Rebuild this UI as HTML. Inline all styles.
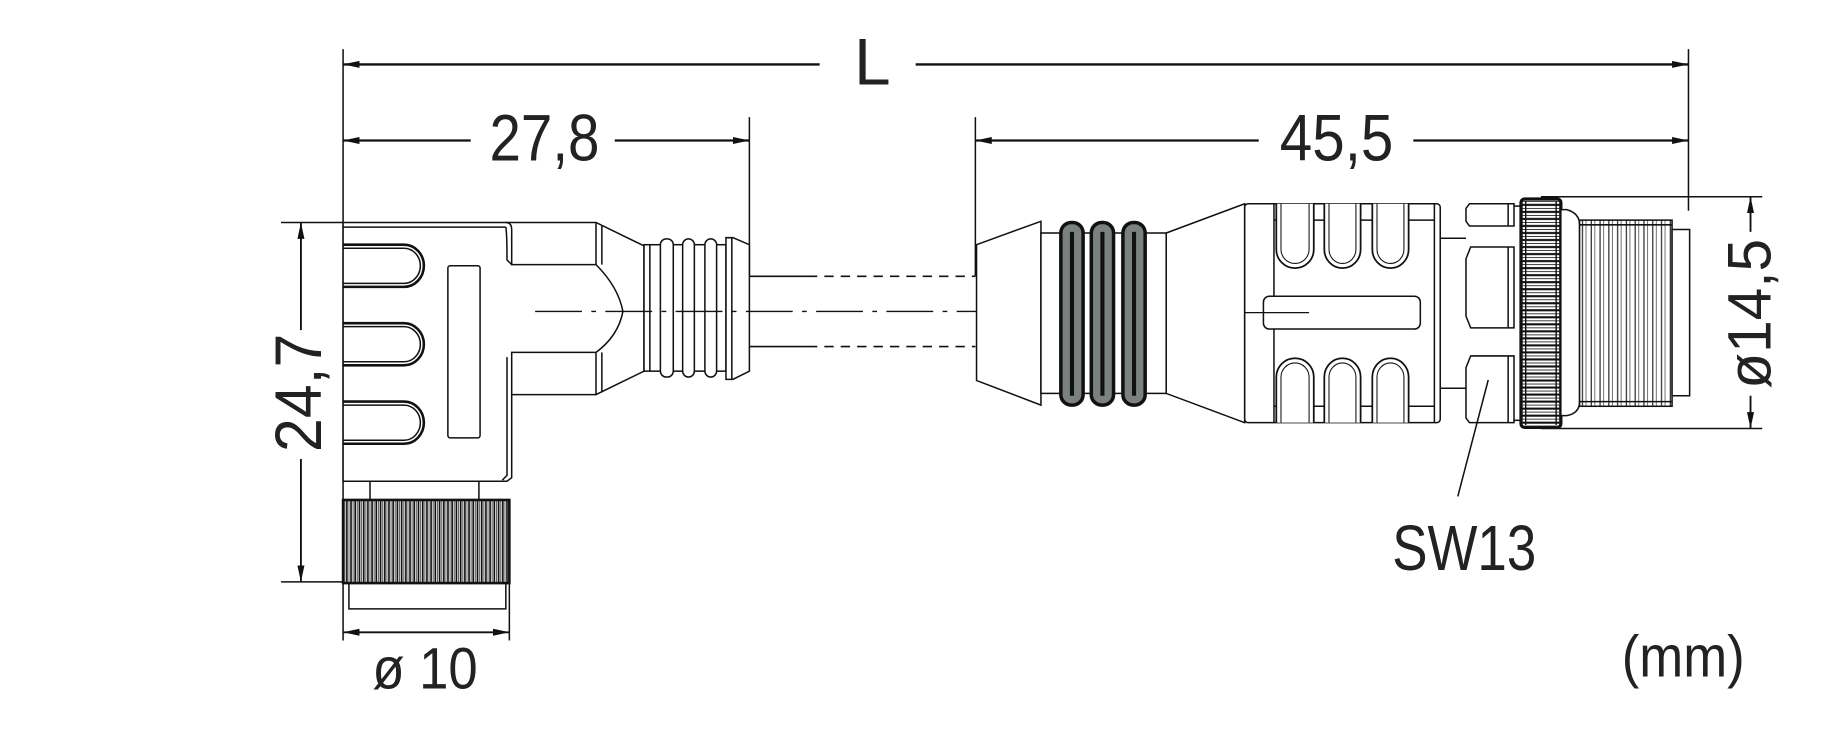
<!DOCTYPE html>
<html><head><meta charset="utf-8"><style>
html,body{margin:0;padding:0;background:#fff;}
svg{display:block;}
text{font-family:"Liberation Sans",sans-serif;fill:#222;}
</style></head><body>
<svg width="1836" height="747" viewBox="0 0 1568 638" preserveAspectRatio="none" xmlns="http://www.w3.org/2000/svg">
<defs>
<pattern id="knV" x="0" y="0" width="3.6" height="10" patternUnits="userSpaceOnUse">
<rect width="3.6" height="10" fill="#fff"/><line x1="1" y1="0" x2="1" y2="10" stroke="#111" stroke-width="1.5"/><line x1="2.8" y1="0" x2="2.8" y2="10" stroke="#444" stroke-width="0.7"/></pattern>
<pattern id="knH" x="0" y="0" width="10" height="6" patternUnits="userSpaceOnUse">
<rect width="10" height="6" fill="#fff"/><line x1="0" y1="1" x2="10" y2="1" stroke="#111" stroke-width="1.8"/><line x1="0" y1="4" x2="10" y2="4" stroke="#333" stroke-width="0.8"/></pattern>
<pattern id="thr" x="0" y="0" width="7.5" height="10" patternUnits="userSpaceOnUse">
<rect width="7.5" height="10" fill="#fff"/><line x1="1.5" y1="0" x2="1.5" y2="10" stroke="#222" stroke-width="1"/><line x1="4.5" y1="0" x2="4.5" y2="10" stroke="#555" stroke-width="0.7"/></pattern>
<marker id="ah" viewBox="0 0 14 6" refX="14" refY="3" markerWidth="14" markerHeight="6" markerUnits="userSpaceOnUse" orient="auto-start-reverse"><path d="M0,0 L14,3 L0,6 Z" fill="#111"/></marker>
</defs>
<g stroke="#111" fill="none" stroke-width="1.3">
<line x1="293" y1="42" x2="293" y2="547"/>
<line x1="640" y1="100" x2="640" y2="236"/>
<line x1="833" y1="100" x2="833" y2="236"/>
<line x1="1442" y1="42" x2="1442" y2="180"/>
<line x1="240" y1="190" x2="293" y2="190"/>
<line x1="240" y1="497" x2="293" y2="497"/>
<line x1="435" y1="498" x2="435" y2="547"/>
<line x1="1316" y1="168" x2="1505" y2="168"/>
<line x1="1316" y1="366" x2="1505" y2="366"/>
<line x1="293" y1="55" x2="700" y2="55" stroke-width="2" marker-start="url(#ah)"/>
<line x1="782" y1="55" x2="1442" y2="55" stroke-width="2" marker-end="url(#ah)"/>
<line x1="293" y1="120" x2="402" y2="120" stroke-width="2" marker-start="url(#ah)"/>
<line x1="525" y1="120" x2="640" y2="120" stroke-width="2" marker-end="url(#ah)"/>
<line x1="833" y1="120" x2="1075" y2="120" stroke-width="2" marker-start="url(#ah)"/>
<line x1="1207" y1="120" x2="1442" y2="120" stroke-width="2" marker-end="url(#ah)"/>
<line x1="257" y1="190" x2="257" y2="282" stroke-width="1.6" marker-start="url(#ah)"/>
<line x1="257" y1="392" x2="257" y2="497" stroke-width="1.6" marker-end="url(#ah)"/>
<line x1="293" y1="540" x2="435" y2="540" stroke-width="1.6" marker-start="url(#ah)" marker-end="url(#ah)"/>
<line x1="1495" y1="168" x2="1495" y2="198" stroke-width="1.6" marker-start="url(#ah)"/>
<line x1="1495" y1="338" x2="1495" y2="366" stroke-width="1.6" marker-end="url(#ah)"/>

<path d="M293,190 L509,190 L550,210 L550,317 L509,337 L437,337 L437,408 L433,411 L293,411 Z" fill="#fff"/>
<line x1="293" y1="194" x2="432" y2="194"/>
<path d="M432,190 Q437,190 437,196 L437,226 L509,226 Q528,245 532,266 Q528,287 509,301 L437,301 L437,337"/>
<path d="M432,194 Q433,200 433,222 L437,226 M433,305 L433,406 L429,410"/>
<line x1="509" y1="190" x2="509" y2="226"/><line x1="509" y1="301" x2="509" y2="337"/>
<line x1="514" y1="193" x2="514" y2="226"/><line x1="514" y1="301" x2="514" y2="334"/>
<path d="M293,209 L345,209 A17,18 0 0 1 345,245 L293,245" stroke-width="2.2"/>
<path d="M293,212 L345,212 A14,15 0 0 1 345,242 L293,242"/>
<path d="M293,276 L345,276 A17,18 0 0 1 345,312 L293,312" stroke-width="2.2"/>
<path d="M293,279 L345,279 A14,15 0 0 1 345,309 L293,309"/>
<path d="M293,343 L345,343 A17,18 0 0 1 345,379 L293,379" stroke-width="2.2"/>
<path d="M293,346 L345,346 A14,15 0 0 1 345,376 L293,376"/>
<rect x="382.5" y="227" width="27.5" height="147" rx="2"/>
<rect x="550" y="209" width="70" height="108" fill="#fff"/>
<line x1="555" y1="209" x2="555" y2="317"/>
<rect x="564" y="204" width="11" height="118" rx="5" fill="#fff"/>
<rect x="583" y="204" width="10" height="118" rx="5" fill="#fff"/>
<rect x="602" y="204" width="10" height="118" rx="5" fill="#fff"/>
<path d="M620,203 L626,203 L640,209 L640,317 L626,324 L620,324 Z" fill="#fff"/>
<line x1="625" y1="203" x2="625" y2="324"/>
<line x1="640" y1="236" x2="690" y2="236"/><line x1="690" y1="236" x2="833" y2="236" stroke-dasharray="8,6"/>
<line x1="640" y1="296" x2="690" y2="296"/><line x1="690" y1="296" x2="833" y2="296" stroke-dasharray="8,6"/>
<line x1="457" y1="266" x2="1118" y2="266" stroke-dasharray="40,8,4,8" stroke-width="1.1"/>
<line x1="316" y1="411" x2="316" y2="427"/><line x1="409" y1="411" x2="409" y2="427"/>
<rect x="293" y="427" width="142" height="71" fill="url(#knV)" stroke-width="2.2"/>
<path d="M298,498 L298,520 L432,520 L432,498"/>

<path d="M834,209 L889,189 L889,346 L834,325 Z" fill="#fff"/>
<rect x="889" y="199" width="107" height="137" fill="#fff"/>
<g stroke="#111" stroke-width="3" fill="#7b8080">
<rect x="906" y="190" width="19" height="156" rx="9"/>
<rect x="932" y="190" width="19" height="156" rx="9"/>
<rect x="959" y="190" width="19" height="156" rx="9"/>
</g>
<g stroke="#111" stroke-width="3.5">
<line x1="915.5" y1="198" x2="915.5" y2="338"/>
<line x1="941.5" y1="198" x2="941.5" y2="338"/>
<line x1="968.5" y1="198" x2="968.5" y2="338"/>
</g>
<path d="M996,199 L1063,174 L1063,361 L996,336 Z" fill="#fff"/>
<rect x="1063" y="174" width="167" height="187" rx="3" fill="#fff"/>
<line x1="1225" y1="174" x2="1225" y2="361"/>
<line x1="1088" y1="174" x2="1088" y2="361"/>
<line x1="1088" y1="188" x2="1225" y2="188"/><line x1="1088" y1="347" x2="1225" y2="347"/>
<g fill="#fff" stroke-width="1.5">
<path d="M1090,174 L1090,213 A16,16 0 0 0 1122,213 L1122,174"/>
<path d="M1131,174 L1131,213 A15.5,16 0 0 0 1162,213 L1162,174"/>
<path d="M1172,174 L1172,213 A15.5,16 0 0 0 1203,213 L1203,174"/>
<path d="M1090,361 L1090,322 A16,16 0 0 1 1122,322 L1122,361"/>
<path d="M1131,361 L1131,322 A15.5,16 0 0 1 1162,322 L1162,361"/>
<path d="M1172,361 L1172,322 A15.5,16 0 0 1 1203,322 L1203,361"/>
</g>
<g stroke-width="0.9">
<path d="M1094,174 L1094,213 A12,12 0 0 0 1118,213 L1118,174"/>
<path d="M1135,174 L1135,213 A11.5,12 0 0 0 1158,213 L1158,174"/>
<path d="M1176,174 L1176,213 A11.5,12 0 0 0 1199,213 L1199,174"/>
<path d="M1094,361 L1094,322 A12,12 0 0 1 1118,322 L1118,361"/>
<path d="M1135,361 L1135,322 A11.5,12 0 0 1 1158,322 L1158,361"/>
<path d="M1176,361 L1176,322 A11.5,12 0 0 1 1199,322 L1199,361"/>
</g>
<rect x="1079" y="253" width="134" height="28" rx="5" fill="#fff"/>
<line x1="1063" y1="267" x2="1118" y2="267" stroke-width="1.1"/>
<line x1="1230" y1="203.5" x2="1252" y2="203.5"/><line x1="1230" y1="331.6" x2="1252" y2="331.6"/>
<path d="M1255,174 L1293,174 L1293,193 L1255,193 L1252,189 L1252,178 Z" fill="#fff"/>
<path d="M1256,211 L1293,211 L1293,280 L1256,280 L1252,270 L1252,221 Z" fill="#fff"/>
<path d="M1256,304 L1293,304 L1293,361 L1255,361 L1252,357 L1252,314 Z" fill="#fff"/>
<line x1="1288" y1="174" x2="1288" y2="193"/><line x1="1288" y1="211" x2="1288" y2="280"/><line x1="1288" y1="304" x2="1288" y2="361"/>
<line x1="1293" y1="176" x2="1299" y2="176"/><line x1="1293" y1="359" x2="1299" y2="359"/>
<rect x="1299" y="170" width="34" height="195" rx="3" fill="url(#knH)" stroke-width="2.8"/>
<line x1="1303" y1="172" x2="1303" y2="363" stroke-width="1.2"/>
<line x1="1329" y1="172" x2="1329" y2="363" stroke-width="1.2"/>
<path d="M1333,179 L1338,179 Q1349,182 1349,192 L1349,343 Q1349,353 1338,355 L1333,355 Z" fill="#fff"/>
<rect x="1349" y="188" width="79" height="159" fill="url(#thr)"/>
<path d="M1349,192 L1428,192 M1349,343 L1428,343"/>
<rect x="1428" y="196" width="15" height="142" fill="#fff"/>
<line x1="1271" y1="324.5" x2="1245" y2="424"/>
</g>
<text x="745" y="72" font-size="56" text-anchor="middle">L</text>
<text x="418" y="137" font-size="56" textLength="94" lengthAdjust="spacingAndGlyphs">27,8</text>
<text x="1093" y="137" font-size="56" textLength="97" lengthAdjust="spacingAndGlyphs">45,5</text>
<text x="318" y="588" font-size="50" textLength="90" lengthAdjust="spacingAndGlyphs">ø 10</text>
<text x="1189" y="487" font-size="55" textLength="123" lengthAdjust="spacingAndGlyphs">SW13</text>
<text x="1385" y="578" font-size="50" textLength="105" lengthAdjust="spacingAndGlyphs">(mm)</text>
<text transform="translate(274,386) rotate(-90)" font-size="56" textLength="101" lengthAdjust="spacingAndGlyphs">24,7</text>
<text transform="translate(1512,332) rotate(-90)" font-size="52" textLength="128" lengthAdjust="spacingAndGlyphs">ø14,5</text>
</svg>
</body></html>
